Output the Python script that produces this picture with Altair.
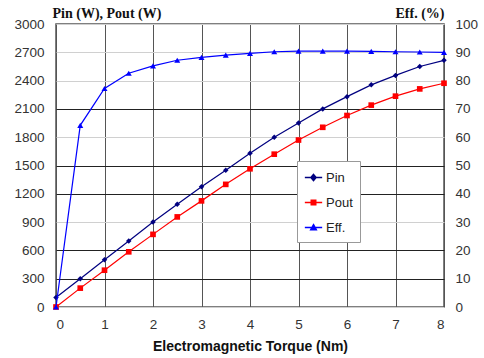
import altair as alt
import pandas as pd

torque = [0, 0.5, 1, 1.5, 2, 2.5, 3, 3.5, 4, 4.5, 5, 5.5, 6, 6.5, 7, 7.5, 8]
pin = [100, 300, 500, 700, 900, 1090, 1275, 1450, 1630, 1800, 1950, 2100, 2230, 2355, 2455, 2550, 2615]
pout = [0, 200, 390, 585, 770, 955, 1125, 1300, 1465, 1620, 1770, 1905, 2030, 2140, 2235, 2312, 2372]
eff = [0, 64.2, 77.2, 82.6, 85.2, 87.2, 88.2, 89.0, 89.6, 90.2, 90.4, 90.4, 90.4, 90.3, 90.2, 90.1, 90.0]

series_names = ["Pin", "Pout", "Eff."]
series_colors = ["#000080", "#FF0000", "#0000FF"]
legend_paths = [
    "M-1,0H1M0,-0.36L0.3,0L0,0.36L-0.3,0Z",
    "M-1,0H1M-0.26,-0.26H0.26V0.26H-0.26Z",
    "M-1,0H1M0,-0.32L0.32,0.26H-0.32Z",
]
left_ticks = list(range(0, 3001, 300))
right_ticks = list(range(0, 101, 10))
dark_grid = [300, 600, 1200, 1500, 2100]

df = pd.DataFrame({"T": torque, "Pin": pin, "Pout": pout, "Eff": eff})
long_df = pd.DataFrame({
    "T": torque * 3,
    "val": pin + pout + [e * 30 for e in eff],
    "series": ["Pin"] * len(torque) + ["Pout"] * len(torque) + ["Eff."] * len(torque),
})

FONT = "Liberation Sans"
SERIF = "Liberation Serif"

x_enc = alt.X(
    "T:Q",
    scale=alt.Scale(domain=[0, 8], nice=False),
    axis=alt.Axis(
        values=list(range(0, 9)), title="Electromagnetic Torque (Nm)", format="d",
        grid=True, gridColor="#555", gridWidth=1, domain=False, ticks=False,
        labelPadding=10, labelFont=FONT, labelFontSize=13.5, labelColor="#333",
        labelOverlap=False,
        titleFont=FONT, titleFontSize=14, titleFontWeight="bold", titleColor="#111",
        titlePadding=9,
    ),
)

left_scale = alt.Scale(domain=[0, 3000], nice=False)
left_axis = alt.Axis(
    values=left_ticks, tickCount=11, format="d", labelOverlap=False,
    title="Pin (W), Pout (W)", titleAngle=0, titleX=-4, titleY=-7,
    titleAlign="left", titleBaseline="alphabetic", titleFont=SERIF, titleFontSize=14,
    titleFontWeight="bold", titleColor="#111",
    grid=True,
    gridColor={"condition": {"test": "indexof(%s, datum.value) >= 0" % dark_grid, "value": "#222"}, "value": "#d0d0d0"},
    gridWidth=1, domain=False, ticks=False, labelPadding=12,
    labelFont=FONT, labelFontSize=13.5, labelColor="#333",
)

base = alt.Chart(df)

pin_line = base.mark_line(color=series_colors[0], strokeWidth=1.2).encode(
    x=x_enc, y=alt.Y("Pin:Q", scale=left_scale, axis=left_axis))
pin_pts = base.mark_point(shape="diamond", filled=True, color=series_colors[0], size=30, opacity=1).encode(
    x=x_enc, y=alt.Y("Pin:Q", scale=left_scale, axis=left_axis))
pout_line = base.mark_line(color=series_colors[1], strokeWidth=1.2).encode(
    x=x_enc, y=alt.Y("Pout:Q", scale=left_scale, axis=left_axis))
pout_pts = base.mark_point(shape="square", filled=True, color=series_colors[1], size=32, opacity=1).encode(
    x=x_enc, y=alt.Y("Pout:Q", scale=left_scale, axis=left_axis))

legend_layer = alt.Chart(long_df).mark_point(filled=True, opacity=0).encode(
    x=x_enc,
    y=alt.Y("val:Q", scale=left_scale, axis=left_axis),
    fill=alt.Fill("series:N", scale=alt.Scale(domain=series_names, range=series_colors), title=None),
    stroke=alt.Stroke("series:N", scale=alt.Scale(domain=series_names, range=series_colors), title=None),
    shape=alt.Shape("series:N", scale=alt.Scale(domain=series_names, range=legend_paths), title=None),
)

left = alt.layer(pin_line, pin_pts, pout_line, pout_pts, legend_layer)

right_scale = alt.Scale(domain=[0, 100], nice=False)
right_axis = alt.Axis(
    values=right_ticks, tickCount=11, format="d", labelOverlap=False,
    orient="right", title="Eff. (%)", titleAngle=0, titleX=0, titleY=-7,
    titleAlign="right", titleBaseline="alphabetic", titleFont=SERIF, titleFontSize=14,
    titleFontWeight="bold", titleColor="#111",
    grid=False, domain=False, ticks=False, labelPadding=11,
    labelFont=FONT, labelFontSize=13.5, labelColor="#333",
)
eff_line = base.mark_line(color=series_colors[2], strokeWidth=1.2).encode(
    x=x_enc, y=alt.Y("Eff:Q", scale=right_scale, axis=right_axis))
eff_pts = base.mark_point(shape="triangle-up", filled=True, color=series_colors[2], size=36, opacity=1).encode(
    x=x_enc, y=alt.Y("Eff:Q", scale=right_scale, axis=right_axis))
right = alt.layer(eff_line, eff_pts)

chart = alt.layer(left, right).resolve_scale(y="independent").properties(
    width=388, height=283,
    autosize=alt.AutoSizeParams(type="none"),
    padding={"left": 56, "top": 24, "right": 40, "bottom": 51},
    background="white",
).configure_view(
    stroke="#555", strokeWidth=1.5
).configure_legend(
    orient="none", legendX=241, legendY=137,
    fillColor="white", strokeColor="#999", padding=7, rowPadding=8,
    labelFont=FONT, labelFontSize=13, labelColor="#222", labelOffset=3,
    symbolSize=300, symbolStrokeWidth=1.5, symbolOpacity=1,
)

chart.save("out.html", embed_options={"renderer": "svg", "actions": False})
